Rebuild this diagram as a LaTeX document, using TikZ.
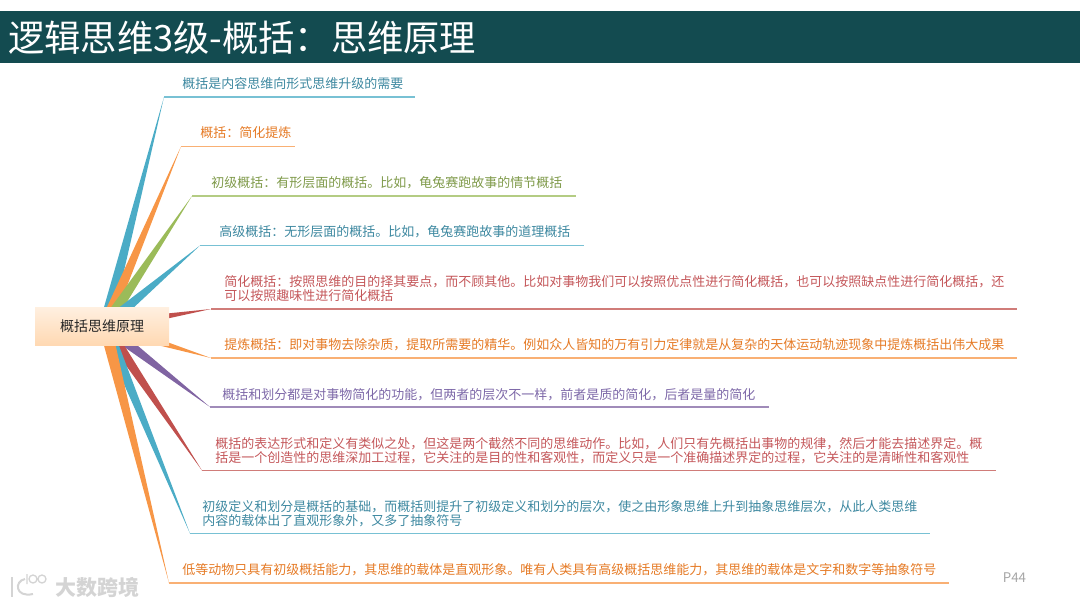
\documentclass[tikz,border=0pt]{standalone}
\usepackage{fontspec}
\setmainfont{Noto Sans CJK SC}
\usetikzlibrary{backgrounds, calc}
\definecolor{bandteal}{HTML}{134B50}
\definecolor{lineblue}{HTML}{4BACC6}
\definecolor{lineorange}{HTML}{F79646}
\definecolor{linegreen}{HTML}{9BBB59}
\definecolor{linered}{HTML}{C0504D}
\definecolor{linepurple}{HTML}{8064A2}
\definecolor{textblue}{HTML}{3D88A0}
\definecolor{textorange}{HTML}{E57A25}
\definecolor{textgreen}{HTML}{7F9A4A}
\definecolor{textred}{HTML}{C4575A}
\definecolor{textpurple}{HTML}{7D68A8}
\tikzset{
	topic/.style={inner sep=0, anchor=west, align=left, font=\fontsize{9.75}{10.6}\selectfont},
}

\begin{document}
\begin{tikzpicture}[x=0.75pt, y=-0.75pt]
	\useasboundingbox (0, 0) rectangle (1080, 607);
	\fill[bandteal] (0, 11) rectangle (1080, 63);
	\node[inner sep=0, anchor=west, text=white, font=\fontsize{27.2}{30}\selectfont] (title) at (8, 38) {逻辑思维3级-概括：思维原理};
	\node[inner sep=0, minimum width=100.5pt, minimum height=28.5pt, top color=orange!12, bottom color=orange!30!white,
		font=\fontsize{10.5}{12}\selectfont, text=black!85] (root) at (102, 326) {概括思维原理};
	\coordinate (hub) at ($(root)+(3, 0)$);

	\node[topic, text=textblue] (t1) at (182, 84) {概括是内容思维向形式思维升级的需要};
	\node[topic, text=textorange] (t2) at (200, 133) {概括：简化提炼};
	\node[topic, text=textgreen] (t3) at (211, 183) {初级概括：有形层面的概括。比如，龟兔赛跑故事的情节概括};
	\node[topic, text=textblue] (t4) at (219, 232) {高级概括：无形层面的概括。比如，龟兔赛跑故事的道理概括};
	\node[topic, text=textred] (t5) at (224, 288.5) {简化概括：按照思维的目的择其要点，而不顾其他。比如对事物我们可以按照优点性进行简化概括，也可以按照缺点性进行简化概括，还\\可以按照趣味性进行简化概括};
	\node[topic, text=textorange] (t6) at (224, 345) {提炼概括：即对事物去除杂质，提取所需要的精华。例如众人皆知的万有引力定律就是从复杂的天体运动轨迹现象中提炼概括出伟大成果};
	\node[topic, text=textpurple] (t7) at (222, 394.5) {概括和划分都是对事物简化的功能，但两者的层次不一样，前者是质的简化，后者是量的简化};
	\node[topic, text=textred] (t8) at (215, 450.5) {概括的表达形式和定义有类似之处，但这是两个截然不同的思维动作。比如，人们只有先概括出事物的规律，然后才能去描述界定。概\\括是一个创造性的思维深加工过程，它关注的是目的性和客观性，而定义只是一个准确描述界定的过程，它关注的是清晰性和客观性};
	\node[topic, text=textblue] (t9) at (202, 513.5) {初级定义和划分是概括的基础，而概括则提升了初级定义和划分的层次，使之由形象思维上升到抽象思维层次，从此人类思维\\内容的载体出了直观形象外，又多了抽象符号};
	\node[topic, text=textorange] (t10) at (182, 570) {低等动物只具有初级概括能力，其思维的载体是直观形象。唯有人类具有高级概括思维能力，其思维的载体是文字和数字等抽象符号};

	\node[inner sep=0, text=black!35, font=\fontsize{10}{12}\selectfont] (page) at (1014.5, 578) {P44};
	\node[inner sep=0, anchor=west, text=black!17, font=\bfseries\fontsize{15.75}{18}\selectfont] (mark) at (55, 587) {大数跨境};
	\draw[black!17, line width=1.5pt] (12, 577) -- (12, 597);
	\draw[black!17, line width=1.5pt] (25, 579) .. controls (14, 581) and (15, 598) .. (33, 594);
	\draw[black!17, line width=1pt] (27, 574) -- (27, 584) (33, 579) circle (4) (42, 579) circle (4);

	\begin{pgfonlayer}{background}
		\foreach \n/\x/\y/\xend/\col in {1/164/97/415/lineblue, 2/181/146.5/295/lineorange, 3/192/196/576/linegreen,
			4/200/245.5/584/lineblue, 5/211/309/1017/linered, 6/211/358/1017/lineorange, 7/210/407/769/linepurple,
			8/202/470.5/996/linered, 9/190/533.5/930/lineblue, 10/169/583/949/lineorange}
		{
			\coordinate (bend\n) at (\x, \y);
			\coordinate (tip\n) at (\xend, \y);
			\fill[\col] ($(hub)!4.6pt!90:(bend\n)$) -- (bend\n) -- ($(hub)!4.6pt!-90:(bend\n)$) -- cycle;
			\draw[\col!75!white, line width=0.9pt] (bend\n) -- (tip\n);
		}
	\end{pgfonlayer}
\end{tikzpicture}
\end{document}
